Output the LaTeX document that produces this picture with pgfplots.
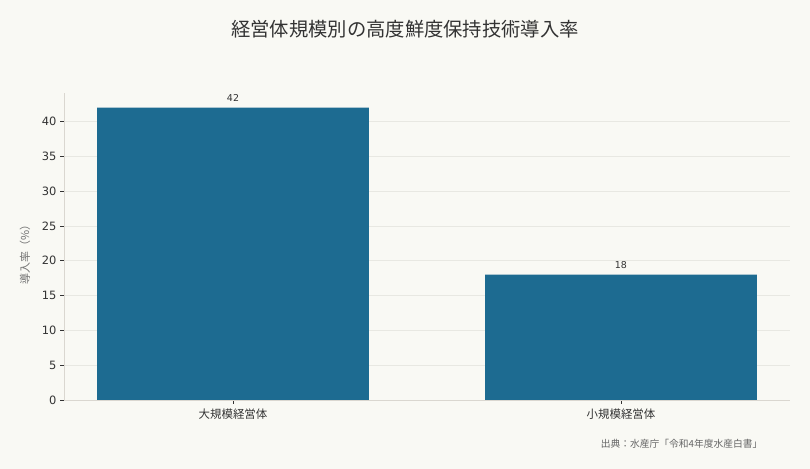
\documentclass[border=0pt]{standalone}
\usepackage{pgfplots}
\pgfplotsset{compat=1.18}
\usepackage{fontspec}
\setmainfont{DejaVu Sans}
\newfontfamily\cjk{Noto Sans CJK JP}
\definecolor{bg}{HTML}{F9F9F4}
\definecolor{barblue}{HTML}{1D6B91}
\definecolor{txt}{HTML}{333333}
\definecolor{spine}{HTML}{DAD7D0}
\definecolor{gridc}{HTML}{E8E8E2}
\begin{document}
\begin{tikzpicture}
\fill[bg] (0,0) rectangle (810bp,469bp);
\begin{axis}[
  at={(64bp,69bp)}, anchor=south west,
  width=726bp, height=307bp, scale only axis,
  ybar, bar width=0.7,
  xmin=-0.4356, xmax=1.4356,
  ymin=0, ymax=44.1,
  axis x line*=bottom, axis y line*=left,
  axis line style={color=spine, line width=0.8bp},
  xtick={0,1},
  xticklabels={{\cjk 大規模経営体},{\cjk 小規模経営体}},
  ytick={0,5,...,40},
  tick align=outside, major tick length=4bp,
  tick style={color=txt, line width=0.8bp},
  ymajorgrids, grid style={color=gridc, line width=0.8bp},
  ticklabel style={font=\fontsize{11.5}{13}\selectfont, color=txt},
  /pgf/number format/assume math mode=true,
  xticklabel style={yshift=-1bp},
  nodes near coords,
  every node near coord/.append style={font=\fontsize{9.5}{11}\selectfont, color=txt, yshift=2.5bp},
]
\addplot[fill=barblue, draw=none] coordinates {(0,42) (1,18)};
\end{axis}
\node[color=txt, font=\cjk\fontsize{19.4}{22}\selectfont] at (405bp,440bp) {経営体規模別の高度鮮度保持技術導入率};
\node[color=black!55, font=\cjk\fontsize{11}{13}\selectfont, rotate=90] at (25bp,217bp) {導入率（\%）};
\node[color=black!60, anchor=east, font=\cjk\fontsize{9.8}{12}\selectfont] at (766bp,25bp) {出典：水産庁「令和4年度水産白書」};
\end{tikzpicture}
\end{document}
